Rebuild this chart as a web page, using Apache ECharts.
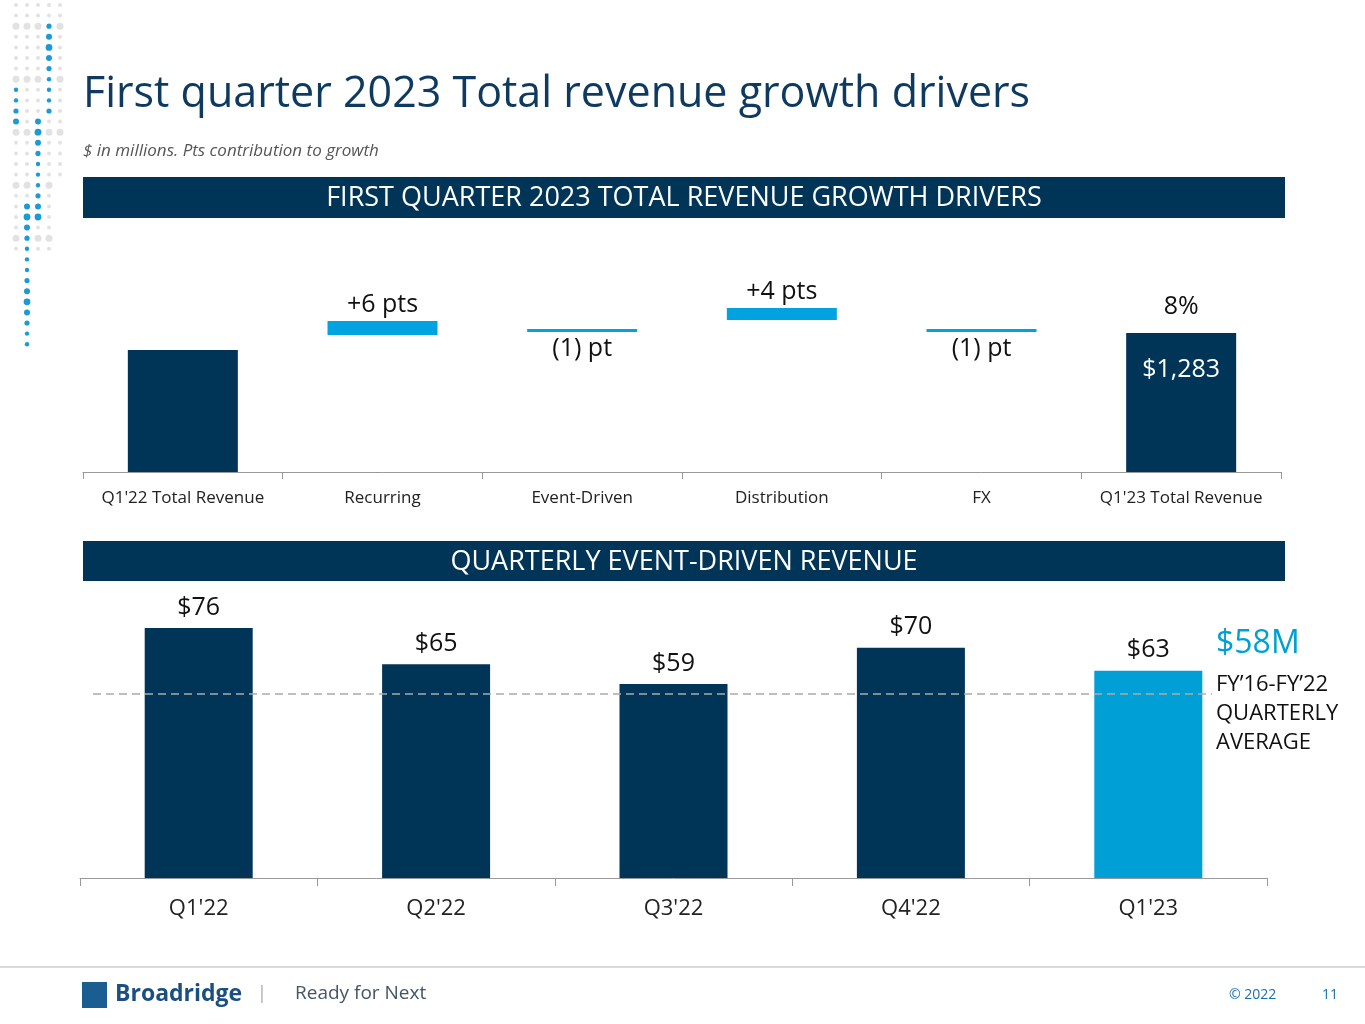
<!DOCTYPE html>
<html>
<head>
<meta charset="UTF-8">
<title>Revenue growth drivers</title>
<script src="https://cdn.jsdelivr.net/npm/echarts@6/dist/echarts.min.js"></script>
<style>
html,body{margin:0;padding:0;background:#fff;}
#main{width:1365px;height:1024px;}
</style>
</head>
<body>
<div id="main"></div>
<script>
// top waterfall (units as drawn on the slide)
var driverCats = ["Q1'22 Total Revenue", "Recurring", "Event-Driven", "Distribution", "FX", "Q1'23 Total Revenue"];
var driverBase = [0, 137, 140, 152, 140, 0];
var driverSize = [122, 14, 3, 12, 3, 139];
var driverLabels = ["", "+6 pts", "(1) pt", "+4 pts", "(1) pt", "8%"];
var driverLabelPos = ["top", "top", "bottom", "top", "bottom", "top"];
var totalInside = ["", "", "", "", "", "$1,283"];

// bottom bars
var quarters = ["Q1'22", "Q2'22", "Q3'22", "Q4'22", "Q1'23"];
var eventRevenue = [76, 65, 59, 70, 63];
var quarterlyAvg = 56;

var DARK = '#013558', LIGHT = '#00a3e0', MID = '#00a0d6';
var FONT = '"Open Sans", "Noto Sans", sans-serif';

// decoration dots
var dots = [];
var cols = [16, 27, 38, 49, 60];
for (var c = 0; c < cols.length; c++) {
  for (var r = 0; r < 33; r++) {
    var y = 5 + r * 10.6;
    var blue = (c == 3 && y > 22 && y < 112) || (c == 0 && y > 84 && y < 132) ||
               (c == 2 && y > 114 && y < 218) || (c == 1 && y > 196);
    if (!blue && (y > 250 && c != 1)) continue;
    if (!blue && c == 4 && y > 180) continue;
    var rad = blue ? 2.2 + 1.2 * Math.max(0, 1 - Math.abs((r % 8) - 4) / 3) : 2 + (r % 5 == 2 ? 1.5 : 0);
    dots.push({type: 'circle', shape: {cx: cols[c], cy: y, r: rad},
      style: {fill: blue ? '#1a9ad6' : '#e2e2e2'}, silent: true});
  }
}

var chart = echarts.init(document.getElementById('main'));
chart.setOption({
  backgroundColor: '#fff',
  animation: false,
  textStyle: {fontFamily: FONT},
  graphic: dots.concat([
    {type: 'text', left: 83, top: 73, style: {text: 'First quarter 2023 Total revenue growth drivers', fill: '#0e3a5f', font: '43px ' + FONT}},
    {type: 'text', left: 83, top: 143, style: {text: '$ in millions. Pts contribution to growth', fill: '#555', font: 'italic 17px ' + FONT}},
    {type: 'rect', shape: {x: 83, y: 177, width: 1202, height: 41}, style: {fill: DARK}},
    {type: 'text', x: 684, y: 198, style: {text: 'FIRST QUARTER 2023 TOTAL REVENUE GROWTH DRIVERS', fill: '#fff', font: '27px ' + FONT, align: 'center', verticalAlign: 'middle'}},
    {type: 'rect', shape: {x: 83, y: 541, width: 1202, height: 40}, style: {fill: DARK}},
    {type: 'text', x: 684, y: 562, style: {text: 'QUARTERLY EVENT-DRIVEN REVENUE', fill: '#fff', font: '27px ' + FONT, align: 'center', verticalAlign: 'middle'}},
    {type: 'text', left: 1216, top: 628, style: {text: '$58M', fill: MID, font: '32px ' + FONT}},
    {type: 'text', left: 1216, top: 670, style: {text: 'FY\u201916-FY\u201922\nQUARTERLY\nAVERAGE', fill: '#111', font: '22px ' + FONT, lineHeight: 29}},
    {type: 'line', shape: {x1: 0, y1: 967, x2: 1365, y2: 967}, style: {stroke: '#ccc', lineWidth: 1.5}},
    {type: 'rect', shape: {x: 82, y: 982, width: 25, height: 26}, style: {fill: '#1a5e91'}},
    {type: 'text', left: 115, top: 983, style: {text: 'Broadridge', fill: '#1a4f80', font: 'bold 23px ' + FONT}},
    {type: 'text', left: 257, top: 985, style: {text: '|', fill: '#aaa', font: '18px ' + FONT}},
    {type: 'text', left: 295, top: 984, style: {text: 'Ready for Next', fill: '#456', font: '19px ' + FONT}},
    {type: 'text', left: 1229, top: 988, style: {text: '\u00a9 2022', fill: '#1a6fb0', font: '14px ' + FONT}},
    {type: 'text', left: 1322, top: 988, style: {text: '11', fill: '#1a6fb0', font: '14px ' + FONT}}
  ]),
  grid: [
    {left: 83, right: 84, top: 222, bottom: 552},
    {left: 80, right: 98, top: 549, bottom: 146}
  ],
  xAxis: [
    {gridIndex: 0, type: 'category', data: driverCats,
     axisLine: {lineStyle: {color: '#999'}},
     axisTick: {show: true, alignWithLabel: false, interval: 0, length: 7, lineStyle: {color: '#999'}},
     axisLabel: {color: '#222', fontSize: 17, margin: 18, interval: 0}},
    {gridIndex: 1, type: 'category', data: quarters,
     axisLine: {lineStyle: {color: '#999'}},
     axisTick: {show: true, alignWithLabel: false, interval: 0, length: 8, lineStyle: {color: '#999'}},
     axisLabel: {color: '#222', fontSize: 22, margin: 20}}
  ],
  yAxis: [
    {gridIndex: 0, type: 'value', min: 0, max: 250, show: false},
    {gridIndex: 1, type: 'value', min: 0, max: 100, show: false}
  ],
  series: [
    {type: 'bar', xAxisIndex: 0, yAxisIndex: 0, stack: 'w', barWidth: 110, silent: true,
     itemStyle: {color: 'transparent'}, data: driverBase},
    {type: 'bar', xAxisIndex: 0, yAxisIndex: 0, stack: 'w', barWidth: 110,
     data: driverSize.map(function (v, i) {
       var total = (i == 0 || i == 5);
       return {value: v, itemStyle: {color: total ? DARK : LIGHT},
         label: {show: true, position: driverLabelPos[i], formatter: driverLabels[i],
           color: '#111', fontSize: 25, distance: i == 5 ? 14 : 4}};
     })},
    {type: 'bar', xAxisIndex: 0, yAxisIndex: 0, barWidth: 110, barGap: '-100%', z: 5, silent: true,
     itemStyle: {color: 'transparent'},
     data: driverSize.map(function (v, i) {
       return {value: totalInside[i] ? driverBase[i] + v : 0,
         label: {show: !!totalInside[i], position: 'insideTop', formatter: totalInside[i],
           color: '#fff', fontSize: 25, distance: 24}};
     })},
    {type: 'bar', xAxisIndex: 1, yAxisIndex: 1, barWidth: 108,
     data: eventRevenue.map(function (v, i) {
       return {value: v, itemStyle: {color: i == eventRevenue.length - 1 ? MID : DARK}};
     }),
     label: {show: true, position: 'top', formatter: '${c}', color: '#111', fontSize: 25, distance: 8},
     markLine: {silent: true, symbol: 'none', label: {show: false},
       lineStyle: {type: [8, 5], color: '#aaa', width: 1.5},
       data: [[{x: 93, yAxis: quarterlyAvg}, {x: 1212, yAxis: quarterlyAvg}]]}}
  ]
});
</script>
</body>
</html>
